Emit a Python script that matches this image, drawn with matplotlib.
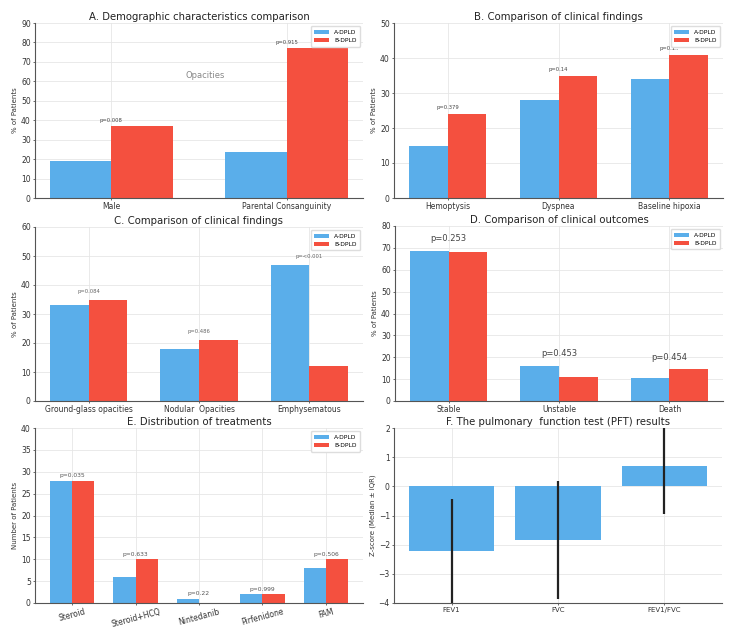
import numpy as np
import matplotlib
matplotlib.use('agg')
import matplotlib.pyplot as plt

plt.rcParams['font.family'] = ['DejaVu Sans']

BLUE = '#5AAEEA'
RED = '#F4503F'

# A. demographic
demo_cats = ['Male', 'Parental Consanguinity']
demo_a = [19, 23.5]
demo_b = [37, 77]
demo_p = ['p=0.008', 'p=0.915']

# B. clinical findings
clin_cats = ['Hemoptysis', 'Dyspnea', 'Baseline hipoxia']
clin_a = [15, 28, 34]
clin_b = [24, 35, 41]
clin_p = ['p=0.379', 'p=0.14', 'p=0.1..']

# C. radiological findings
rad_cats = ['Ground-glass opacities', 'Nodular  Opacities', 'Emphysematous']
rad_a = [33, 18, 47]
rad_b = [35, 21, 12]
rad_p = ['p=0.084', 'p=0.486', 'p=<0.001']

# D. outcomes
out_cats = ['Stable', 'Unstable', 'Death']
out_a = [68.5, 16, 10.5]
out_b = [68, 11, 14.5]
out_p = ['p=0.253', 'p=0.453', 'p=0.454']

# E. treatments
trt_cats = ['Steroid', 'Steroid+HCQ', 'Nintedanib', 'Pirfenidone', 'FAM']
trt_a = [28, 6, 1, 2, 8]
trt_b = [28, 10, 0, 2, 10]
trt_p = ['p=0.035', 'p=0.633', 'p=0.22', 'p=0.999', 'p=0.506']

# F. PFT z-scores
pft_cats = ['FEV1', 'FVC', 'FEV1/FVC']
pft_median = [-2.2, -1.85, 0.7]
pft_low = [-4.2, -3.85, -0.95]
pft_high = [-0.45, 0.2, 2.0]

W, H = 735, 641
fig = plt.figure(figsize=(W / 100, H / 100), dpi=100)


def px_axes(left, top, right, bottom):
    return fig.add_axes([left / W, 1 - bottom / H, (right - left) / W, (bottom - top) / H])


def style(ax, title, ylabel, ylim, yticks):
    ax.set_title(title, fontsize=7.3, color='#222222', pad=2)
    ax.set_ylabel(ylabel, fontsize=5, color='#333333', labelpad=2)
    ax.set_ylim(*ylim)
    ax.set_yticks(yticks)
    ax.grid(True, color='#e6e6e6', linewidth=0.6)
    ax.set_axisbelow(True)
    for s in ['top', 'right']:
        ax.spines[s].set_visible(False)
    for s in ['left', 'bottom']:
        ax.spines[s].set_color('#555555')
        ax.spines[s].set_linewidth(0.8)
    ax.tick_params(labelsize=5.5, length=1.5, width=0.5, pad=1.5, colors='#333333')


def grouped(ax, cats, a, b, pvals, off, pfont=3.8, pcolor='#444444'):
    x = np.arange(len(cats))
    w = 0.35
    ax.bar(x - w / 2, a, w, color=BLUE, label='A-DPLD')
    ax.bar(x + w / 2, b, w, color=RED, label='B-DPLD')
    ax.set_xticks(x)
    ax.set_xticklabels(cats)
    for xi, ai, bi, p in zip(x, a, b, pvals):
        ax.text(xi, max(ai, bi) + off, p, ha='center', va='bottom', fontsize=pfont, color=pcolor)
    ax.legend(loc='upper right', fontsize=4.3, frameon=True, framealpha=1,
              edgecolor='#dddddd', handlelength=2.5, borderpad=0.6)


# A
ax = px_axes(35, 23, 363, 198)
grouped(ax, demo_cats, demo_a, demo_b, demo_p, 1.5)
style(ax, 'A. Demographic characteristics comparison', '% of Patients', (0, 90), range(0, 91, 10))
ax.text(0.52, 0.70, 'Opacities', transform=ax.transAxes, ha='center', va='center',
        fontsize=6, color='#888888')

# B
ax = px_axes(394, 23, 723, 198)
grouped(ax, clin_cats, clin_a, clin_b, clin_p, 1)
style(ax, 'B. Comparison of clinical findings', '% of Patients', (0, 50), range(0, 51, 10))

# C
ax = px_axes(35, 227, 363, 401)
grouped(ax, rad_cats, rad_a, rad_b, rad_p, 2, pcolor='#666666')
style(ax, 'C. Comparison of clinical findings', '% of Patients', (0, 60), range(0, 61, 10))

# D
ax = px_axes(395, 226, 723, 401)
grouped(ax, out_cats, out_a, out_b, out_p, 3.5, pfont=6)
style(ax, 'D. Comparison of clinical outcomes', '% of Patients', (0, 80), range(0, 81, 10))

# E
ax = px_axes(35, 428, 363, 603)
grouped(ax, trt_cats, trt_a, trt_b, trt_p, 0.6, pfont=4.3, pcolor='#555555')
style(ax, 'E. Distribution of treatments', 'Number of Patients', (0, 40), range(0, 41, 5))
plt.setp(ax.get_xticklabels(), rotation=15, ha='center')

# F
ax = px_axes(394, 428, 722, 603)
xf = np.arange(len(pft_cats))
ax.bar(xf, pft_median, 0.8, color=BLUE)
ax.vlines(xf, pft_low, pft_high, color='#222222', linewidth=1.6)
ax.set_xticks(xf)
ax.set_xticklabels(pft_cats)
style(ax, 'F. The pulmonary  function test (PFT) results', 'Z-score (Median \u00b1 IQR)', (-4, 2), range(-4, 3))
ax.tick_params(axis='x', labelsize=5)

fig.savefig('out.png', dpi=100)
